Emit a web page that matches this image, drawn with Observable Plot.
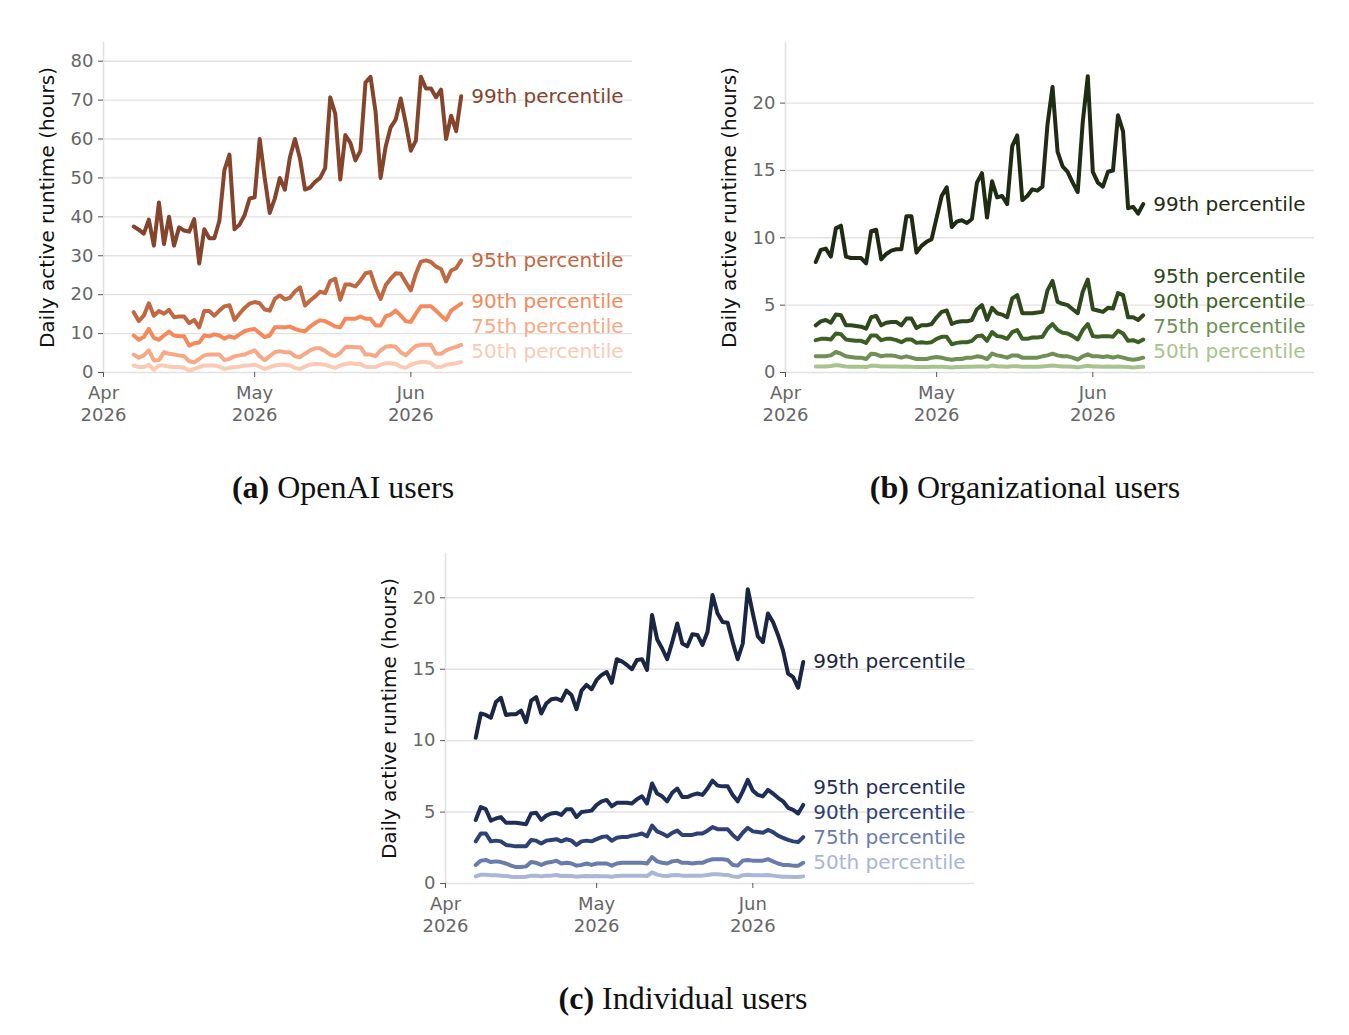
<!DOCTYPE html>
<html><head><meta charset="utf-8">
<script src="https://cdn.jsdelivr.net/npm/d3@7"></script>
<script src="https://cdn.jsdelivr.net/npm/@observablehq/plot@0.6"></script>
<style>
body{margin:0;background:#fff;}
#fig{position:relative;width:1349px;height:1035px;background:#fff;overflow:hidden;}
.panel{position:absolute;}
.cap{position:absolute;font-family:"Liberation Serif","DejaVu Serif",serif;font-size:32px;line-height:32px;color:#111;white-space:nowrap;transform:translateX(-50%);}
.cap b{font-weight:bold;}
</style></head><body><div id="fig"></div><script>
// ---- data ----
const startDate = "2026-04-07";
const xStart = "2026-04-01", xEnd = "2026-07-15";
const xTickDates = ["2026-04-01", "2026-05-01", "2026-06-01"];
const yLabel = "Daily active runtime (hours)";
const seriesNames = ["99th percentile", "95th percentile", "90th percentile", "75th percentile", "50th percentile"];

const openai99 = [37.5,36.7,35.7,39.3,32.6,43.7,33,40,32.6,37.3, 36.5,36.2,39.4,28,36.8,34.5,34.5,39,52,56, 36.8,38,40.4,44.7,45,60,50,41,44.7,50, 47,55.3,60,55,47,47.5,49,50,52.5,70.7, 66.5,49.6,61,59,54.5,57,74.5,76,67,50, 58,63,65,70.4,64,57,59.6,76,73,73, 70.7,72.7,60,66,62,71];
const openai95 = [15.5,13.2,14.6,17.8,14.6,15.8,15.1,16.1,14.2,14.4, 14.4,12.7,13.5,11.6,15.8,15.8,14.6,15.9,17,17.3, 13.5,15.1,16.6,17.7,18.1,17.8,16.2,15.9,18.9,19.8, 18.8,19.2,20.8,21.9,17.2,18.5,19.5,20.8,20.4,23.5, 24.1,18.7,22.6,22.6,22.1,23.6,25.5,25.8,21.9,18.9, 22.4,24.1,25.5,25.4,23.2,21.1,25.4,28.5,28.8,28.4, 27.2,26.6,23.4,26.2,26.8,28.8];
const openai90 = [9.5,8.4,9.1,11.2,8.9,8.4,9.5,10.5,9.5,9.3, 9.3,6.9,7.5,7.7,9.5,9.3,9.8,9.5,8.7,9.3, 8.9,9.8,10.6,11,11.2,10.1,9.1,9.5,11.6,11.6, 11.6,11.8,11.2,10.8,10.6,11.8,12.7,13.4,13.2,12.5, 11.8,11.6,13.8,13.8,13.8,14.4,13.8,13.8,12.1,12.1, 14.4,14.9,15.9,14.6,13.2,13.0,15.1,17,17,17, 15.9,14.6,13.5,15.9,16.8,17.7];
const openai75 = [4.6,3.8,4.4,5.7,3.1,3.2,5.2,4.8,4.6,4.4, 4.2,2.9,2.6,3.5,4.4,4.6,4.6,4.6,3.2,3.5, 4.2,4.4,4.6,5.2,5.7,4.2,3.2,4.2,5.2,5.5, 5.2,5.2,4.2,4.0,4.8,5.7,6.2,6.2,5.5,4.6, 4.2,5.0,6.5,6.6,6.5,6.5,4.6,4.6,4.2,5.7, 6.6,6.8,6.6,5.2,4.4,5.7,6.8,7.1,7.1,7.1, 4.8,4.8,5.7,6.2,6.6,7.1];
const openai50 = [1.8,1.4,1.4,2.0,0.7,1.8,1.8,1.5,1.4,1.4, 1.2,0.5,0.9,1.4,1.8,1.8,1.8,1.5,0.9,1.2, 1.4,1.5,1.8,1.8,2.0,1.5,0.9,1.4,1.8,2.0, 2.0,1.8,1.2,0.9,1.5,2.0,2.2,2.2,2.0,1.5, 1.2,1.8,2.2,2.4,2.2,2.2,1.5,1.4,1.4,2.0, 2.4,2.4,2.2,1.5,1.2,2.0,2.4,2.7,2.7,2.4, 1.4,1.4,2.0,2.2,2.4,2.7];

const org99 = [8.2,9.1,9.2,8.6,10.7,10.9,8.6,8.5,8.5,8.5, 8.1,10.5,10.6,8.4,8.8,9.05,9.15,9.15,11.6,11.6, 8.9,9.4,9.7,9.9,11.5,13.1,13.75,10.8,11.2,11.3, 11.1,11.4,14.1,14.8,11.5,14.2,13.0,13.1,12.5,16.8, 17.6,12.8,13.1,13.6,13.5,13.8,18.4,21.2,16.4,15.3, 14.9,14.1,13.4,18.6,22.0,14.9,14.1,13.8,14.9,15.0, 19.1,17.9,12.2,12.3,11.8,12.5];
const org95 = [3.5,3.8,3.9,3.7,4.3,4.25,3.5,3.5,3.45,3.4, 3.25,4.1,4.2,3.5,3.7,3.75,3.75,3.5,4.0,4.0, 3.3,3.5,3.5,3.6,4.1,4.5,4.6,3.6,3.75,3.8, 3.8,3.9,4.7,5.0,3.9,4.8,4.4,4.3,4.1,5.5, 5.75,4.4,4.4,4.4,4.45,4.5,6.1,6.8,5.25,5.1, 5.0,4.7,4.4,6.0,6.9,4.7,4.6,4.5,4.8,4.75, 5.9,5.75,4.1,4.1,3.9,4.25];
const org90 = [2.4,2.5,2.5,2.45,2.9,2.85,2.45,2.4,2.35,2.35, 2.2,2.75,2.75,2.4,2.5,2.5,2.4,2.25,2.45,2.45, 2.2,2.25,2.2,2.25,2.5,2.65,2.65,2.1,2.2,2.25, 2.25,2.35,2.7,2.75,2.35,3.0,2.7,2.65,2.5,3.0, 3.15,2.5,2.5,2.6,2.6,2.65,3.25,3.6,3.15,2.95, 2.9,2.7,2.45,3.15,3.6,2.7,2.65,2.7,2.7,2.65, 3.1,2.9,2.35,2.4,2.25,2.45];
const org75 = [1.2,1.2,1.2,1.27,1.52,1.4,1.2,1.15,1.1,1.1, 1.0,1.4,1.35,1.2,1.27,1.27,1.2,1.1,1.2,1.1, 1.0,1.0,1.0,1.1,1.15,1.1,1.0,0.95,1.0,1.0, 1.1,1.1,1.2,1.15,1.0,1.4,1.27,1.2,1.1,1.27, 1.27,1.1,1.1,1.1,1.1,1.2,1.27,1.4,1.27,1.2, 1.2,1.1,0.95,1.2,1.35,1.2,1.2,1.15,1.2,1.1, 1.2,1.1,1.0,0.95,1.0,1.1];
const org50 = [0.45,0.45,0.45,0.48,0.55,0.5,0.45,0.43,0.42,0.42, 0.4,0.5,0.5,0.45,0.45,0.45,0.45,0.42,0.45,0.42, 0.4,0.4,0.4,0.42,0.42,0.42,0.4,0.38,0.4,0.4, 0.42,0.42,0.45,0.45,0.42,0.52,0.47,0.45,0.42,0.47, 0.47,0.42,0.42,0.42,0.42,0.45,0.48,0.52,0.48,0.45, 0.45,0.42,0.38,0.45,0.5,0.45,0.45,0.43,0.45,0.42, 0.45,0.42,0.4,0.38,0.4,0.42];

const ind99 = [10.2,11.9,11.8,11.6,12.7,13.0,11.8,11.85,11.85,12.1, 11.3,12.8,13.05,11.9,12.6,12.9,12.95,12.8,13.5,13.2, 12.2,13.5,13.9,13.6,14.25,14.6,14.8,14.05,15.7,15.55, 15.3,15.0,15.65,15.7,14.95,18.8,17.1,16.45,15.7,16.9, 18.2,16.8,16.6,17.45,17.4,16.7,17.6,20.2,18.9,18.3, 18.25,16.9,15.7,16.8,20.6,18.9,17.3,16.9,18.9,18.3, 17.4,16.3,14.7,14.45,13.7,15.5];
const ind95 = [4.45,5.35,5.2,4.4,4.55,4.65,4.25,4.25,4.25,4.2, 4.15,4.9,4.95,4.45,4.75,4.9,4.95,4.8,5.2,5.2, 4.65,5.0,5.05,5.1,5.5,5.75,5.85,5.4,5.65,5.65, 5.65,5.6,5.9,6.1,5.6,7.0,6.3,6.1,5.75,6.35, 6.65,6.05,6.05,6.2,6.3,6.2,6.65,7.2,6.85,6.8, 6.8,6.2,5.75,6.45,7.25,6.5,6.2,6.1,6.55,6.3, 6.0,5.75,5.3,5.15,4.9,5.5];
const ind90 = [2.95,3.5,3.5,2.95,3.0,2.95,2.7,2.65,2.6,2.6, 2.6,3.05,3.0,2.8,3.0,3.05,3.1,2.95,3.1,3.0, 2.7,2.95,3.0,2.95,3.1,3.25,3.3,3.0,3.2,3.25, 3.25,3.35,3.4,3.5,3.3,4.05,3.65,3.5,3.3,3.55, 3.7,3.4,3.4,3.4,3.5,3.5,3.7,3.95,3.8,3.8, 3.8,3.4,3.1,3.55,3.9,3.65,3.6,3.55,3.75,3.6, 3.35,3.2,3.05,2.95,2.9,3.25];
const ind75 = [1.3,1.6,1.65,1.5,1.55,1.5,1.4,1.25,1.15,1.15, 1.2,1.5,1.45,1.3,1.45,1.5,1.6,1.4,1.45,1.4, 1.25,1.3,1.4,1.3,1.4,1.4,1.4,1.25,1.4,1.45, 1.45,1.45,1.45,1.45,1.4,1.85,1.55,1.45,1.4,1.55, 1.6,1.45,1.45,1.4,1.45,1.45,1.6,1.7,1.7,1.7, 1.65,1.3,1.25,1.6,1.65,1.6,1.6,1.6,1.7,1.55, 1.4,1.3,1.3,1.25,1.25,1.45];
const ind50 = [0.5,0.62,0.62,0.58,0.58,0.55,0.52,0.48,0.45,0.45, 0.47,0.55,0.55,0.5,0.55,0.55,0.6,0.52,0.55,0.52, 0.48,0.5,0.52,0.5,0.52,0.5,0.5,0.48,0.52,0.55, 0.55,0.55,0.55,0.55,0.52,0.78,0.62,0.55,0.52,0.58, 0.6,0.55,0.55,0.55,0.55,0.55,0.6,0.65,0.65,0.62, 0.6,0.5,0.45,0.58,0.62,0.58,0.58,0.58,0.6,0.55, 0.5,0.48,0.48,0.45,0.45,0.5];

const openaiColors = ["#85452d", "#c06842", "#f4895b", "#f7a985", "#fbcab4"];
const orgColors = ["#1f2c13", "#2e481b", "#3c5f24", "#6e9055", "#a8c48e"];
const indColors = ["#1b2642", "#1f2e57", "#2d4174", "#6a7ca9", "#a9b6d5"];

const openaiTicks = [0, 10, 20, 30, 40, 50, 60, 70, 80];
const orgTicks = [0, 5, 10, 15, 20];
const indTicks = [0, 5, 10, 15, 20];

const captions = [
  {tag: "(a)", text: "OpenAI users"},
  {tag: "(b)", text: "Organizational users"},
  {tag: "(c)", text: "Individual users"}
];

// ---- drawing ----
const parse = d3.utcParse("%Y-%m-%d");
const fig = document.getElementById("fig");
const W = 660, H = 440, ML = 103, MR = 28, MT = 42, MB = 68;

function makePanel(values, colors, yMax, yTicks, left, top) {
  const t0 = parse(startDate);
  const rows = [];
  values.forEach((vals, s) => vals.forEach((v, i) => rows.push({date: d3.utcDay.offset(t0, i), value: v, s})));
  const n = values[0].length;
  const lastDate = d3.utcDay.offset(t0, n - 1);
  // label placement: dodge upward from the bottom, min 25px apart, at least 20px above axis
  const pxPerUnit = (H - MT - MB) / yMax;
  const gap = 25 / pxPerUnit, floor = 20.5 / pxPerUnit;
  const labelY = new Array(values.length);
  let below = null;
  for (let s = values.length - 1; s >= 0; s--) {
    const last = values[s][n - 1];
    let y = below === null ? Math.max(last, floor) : Math.max(last, below + gap);
    labelY[s] = y; below = y;
  }
  const labels = seriesNames.map((name, s) => ({date: lastDate, y: labelY[s], name, color: colors[s]}));
  const marks = [
    Plot.gridY(yTicks.filter(t => t > 0), {stroke: "#e2e2e2", strokeOpacity: 1, strokeWidth: 1.4}),
    Plot.ruleY([0], {stroke: "#e2e2e2", strokeWidth: 1.6}),
    Plot.ruleX([parse(xStart)], {stroke: "#e2e2e2", strokeWidth: 1.6}),
    Plot.axisY(yTicks, {tickSize: 5, tickPadding: 5, stroke: "#555", fill: "#666", fontSize: 18, label: null}),
    Plot.axisX(xTickDates.map(parse), {tickSize: 5, tickPadding: 7, stroke: "#555", fill: "#666", fontSize: 18, lineHeight: 1.17, tickFormat: d => d3.utcFormat("%b")(d) + "\n" + d3.utcFormat("%Y")(d), label: null}),
    Plot.text([yLabel], {frameAnchor: "left", textAnchor: "middle", lineAnchor: "middle", rotate: -90, dx: -56, fontSize: 20, fill: "#111", text: d => d})
  ];
  for (let s = values.length - 1; s >= 0; s--) {
    marks.push(Plot.line(rows.filter(r => r.s === s), {x: "date", y: "value", stroke: colors[s], strokeWidth: 4, strokeLinejoin: "round", strokeLinecap: "round"}));
  }
  marks.push(Plot.text(labels, {x: "date", y: "y", text: "name", fill: "color", dx: 10, textAnchor: "start", fontSize: 20}));
  const svg = Plot.plot({
    width: W, height: H, marginLeft: ML, marginRight: MR, marginTop: MT, marginBottom: MB,
    style: {fontFamily: "DejaVu Sans", background: "transparent", overflow: "visible"},
    x: {type: "utc", domain: [parse(xStart), parse(xEnd)]},
    y: {domain: [0, yMax]},
    marks
  });
  const div = document.createElement("div");
  div.className = "panel";
  div.style.left = left + "px"; div.style.top = top + "px";
  div.appendChild(svg);
  fig.appendChild(div);
}

function makeCaption(c, cx, top) {
  const d = document.createElement("div");
  d.className = "cap";
  d.style.left = cx + "px"; d.style.top = top + "px";
  const b = document.createElement("b"); b.textContent = c.tag;
  d.appendChild(b);
  d.appendChild(document.createTextNode(" " + c.text));
  fig.appendChild(d);
}

makePanel([openai99, openai95, openai90, openai75, openai50], openaiColors, 84.8, openaiTicks, 0, 0);
makePanel([org99, org95, org90, org75, org50], orgColors, 24.5, orgTicks, 682, 0);
makePanel([ind99, ind95, ind90, ind75, ind50], indColors, 23.1, indTicks, 342, 511);
makeCaption(captions[0], 343, 471);
makeCaption(captions[1], 1025, 471);
makeCaption(captions[2], 683, 982);
</script></body></html>
